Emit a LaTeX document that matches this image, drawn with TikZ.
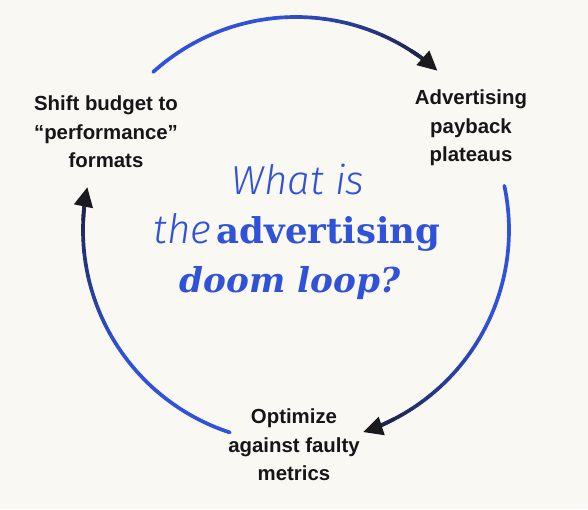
\documentclass[tikz,border=0pt]{standalone}
\usepackage{fontspec}
\usepackage{xcolor}
\usepackage{tikz}
\usetikzlibrary{arrows.meta,positioning}
\setmainfont{Liberation Sans}
\newfontfamily\whatfont{Fira Sans}[UprightFont={* Light}, ItalicFont={* Light Italic}]
\newfontfamily\doomfont{DejaVu Serif}
\definecolor{paper}{RGB}{250,248,242}
\definecolor{loopblue}{RGB}{48,82,216}
\definecolor{loopnavy}{RGB}{30,38,78}
\definecolor{tipdark}{RGB}{26,26,30}
\definecolor{inkdark}{RGB}{22,22,24}

% gradient arc, clockwise from #1 to #2 (degrees), tip at #2
\newcommand{\doomarc}[2]{%
  \foreach \k in {0,...,23}{%
    \pgfmathsetmacro{\angA}{#1+(#2+4.5-#1)*\k/24}%
    \pgfmathsetmacro{\angB}{#1+(#2+4.5-#1)*(\k+1)/24}%
    \pgfmathtruncatemacro{\mixp}{max(0,min(100,100-(\k-11)*100/12))}%
    \draw[loopline, draw=loopblue!\mixp!loopnavy] (c) ++(\angA:\rad) arc[start angle=\angA, end angle=\angB, radius=\rad];%
  }%
  \pgfmathsetmacro{\angT}{#2+9}%
  \draw[loopline, draw=loopnavy, -{Triangle[length=3.9mm,width=3.7mm,color=tipdark]}] (c) ++(\angT:\rad) arc[start angle=\angT, end angle=#2, radius=\rad];%
}

\begin{document}
\begin{tikzpicture}[
    loopline/.style={line width=2.1pt, line cap=round},
    stage/.style={align=center, text=inkdark, font=\fontsize{11.6}{16.2}\selectfont\bfseries},
    title/.style={text=loopblue, anchor=base, inner sep=0pt}
]
\def\rad{4.26}

% Background
\fill[paper] (-5.92,4.6) rectangle (5.84,-5.58);
\useasboundingbox (-5.92,4.6) rectangle (5.84,-5.58);
\coordinate (c) at (0,0);

% Stages
\node[stage] (shift) at (-3.8,1.96) {Shift budget to\\“performance”\\formats};
\node[stage] (plateau) at (3.5,2.04) {Advertising\\payback\\plateaus};
\node[stage] (optimize) at (-0.04,-4.3) {Optimize\\against faulty\\metrics};

% Title
\node[title] (what) at (0.04,0.72) {\fontsize{23}{26}\selectfont\whatfont\itshape What is};
\node[title] (adv) at (0.02,-0.26) {{\fontsize{23}{26}\selectfont\whatfont\itshape the} \fontsize{20.2}{24}\selectfont\doomfont\bfseries advertising};
\node[title] (doom) at (-0.12,-1.24) {\fontsize{19.5}{24}\selectfont\doomfont\bfseries\itshape doom loop?};

% Loop arcs
\doomarc{132.1}{48.4}
\doomarc{12}{-71.6}
\doomarc{251.9}{168.4}

\end{tikzpicture}
\end{document}
